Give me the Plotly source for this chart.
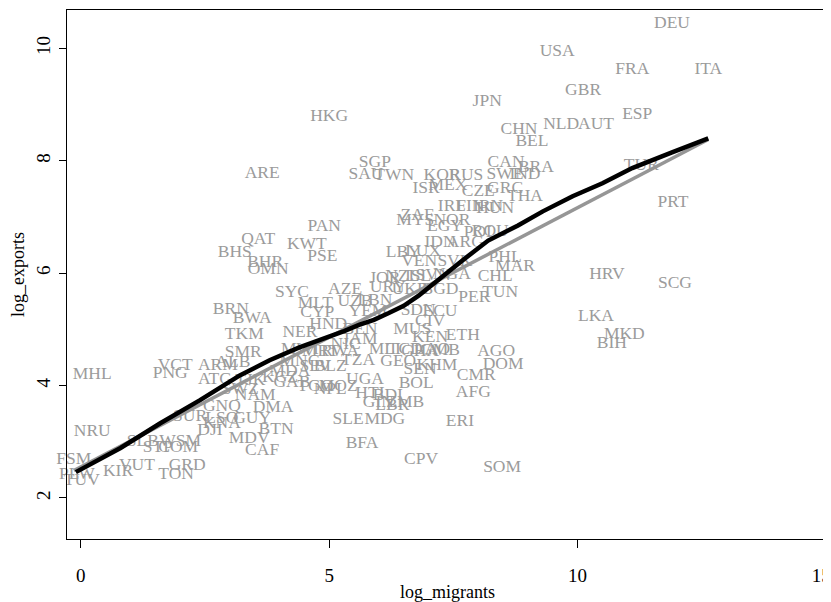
import plotly.graph_objects as go

# Country labels (ISO codes) with log_migrants (x) and log_exports (y)
countries = [
    "DEU", "USA", "FRA", "ITA", "GBR", "JPN", "ESP", "HKG", "CHN", "NLD",
    "AUT", "BEL", "CAN", "BRA", "SWE", "IND", "THA", "GRC", "CZE", "TUR",
    "PRT", "HRV", "SCG", "LKA", "MKD", "BIH", "SGP", "SAU", "TWN", "KOR",
    "RUS", "ISR", "MEX", "IRL", "FIN", "IRN", "HUN", "ZAF", "MYS", "NOR",
    "EGY", "ROU", "POL", "IDN", "ARG", "LBY", "LUX", "VEN", "SVK", "PHL",
    "MAR", "JOR", "NZL", "ISL", "SVN", "NGA", "CHL", "AZE", "URY", "UKR",
    "BGD", "PER", "TUN", "ARE", "PAN", "QAT", "KWT", "BHS", "PSE", "BHR",
    "OMN", "SYC", "MLT", "UZB", "LBN", "CYP", "YEM", "SDN", "ECU", "CIV",
    "BRN", "BWA", "TKM", "NER", "HND", "BEN", "MUS", "KEN", "ETH", "JAM",
    "SMR", "MWI", "MRT", "RWA", "MNG", "NIC", "MLI", "TCD", "GHA", "LAO",
    "GMB", "AGO", "DOM", "ARM", "ALB", "BLZ", "SLV", "TZA", "GEO", "SEN",
    "KHM", "CMR", "ATG", "TJK", "MDA", "KGZ", "GAB", "TGO", "NPL", "MOZ",
    "UGA", "BOL", "AFG", "NAM", "SWZ", "GNQ", "DMA", "SUR", "LSO", "GUY",
    "KNA", "DJI", "BTN", "MDV", "CAF", "SLE", "MDG", "BFA", "ERI", "CPV",
    "SOM", "HTI", "BDI", "GIN", "LBR", "ZMB", "MHL", "VCT", "PNG", "NRU",
    "SLB", "WSM", "STP", "COM", "FSM", "PLW", "TUV", "KIR", "VUT", "GRD",
    "TON",
]

log_migrants = [
    11.90, 9.59, 11.10, 12.63, 10.11, 8.18, 11.20, 5.00, 8.82, 9.67,
    10.37, 9.08, 8.56, 9.16, 8.54, 8.94, 8.94, 8.54, 8.00, 11.28,
    11.92, 10.59, 11.96, 10.37, 10.94, 10.69, 5.92, 5.74, 6.31, 7.27,
    7.76, 6.95, 7.39, 7.47, 7.84, 8.20, 8.34, 6.77, 6.73, 7.47,
    7.33, 8.24, 8.04, 7.23, 7.74, 6.49, 6.89, 6.81, 7.53, 8.54,
    8.74, 6.12, 6.47, 6.79, 7.09, 7.47, 8.34, 5.32, 6.18, 6.63,
    7.23, 7.92, 8.44, 3.65, 4.90, 3.57, 4.55, 3.10, 4.86, 3.71,
    3.77, 4.25, 4.72, 5.52, 5.92, 4.76, 5.78, 6.79, 7.23, 7.03,
    3.02, 3.45, 3.29, 4.41, 4.98, 5.62, 6.67, 7.03, 7.69, 5.62,
    3.27, 4.41, 4.82, 5.22, 4.41, 5.33, 6.12, 6.53, 6.83, 7.07,
    7.23, 8.36, 8.50, 2.76, 3.06, 5.02, 4.72, 5.58, 6.39, 6.83,
    7.17, 7.96, 2.70, 3.41, 4.21, 4.01, 4.25, 4.72, 5.02, 5.18,
    5.72, 6.75, 7.90, 3.51, 3.21, 2.84, 3.87, 2.20, 2.84, 3.45,
    2.84, 2.60, 3.93, 3.39, 3.65, 5.38, 6.12, 5.66, 7.63, 6.85,
    8.48, 5.82, 6.18, 5.99, 6.27, 6.53, 0.23, 1.90, 1.80, 0.23,
    1.25, 2.00, 1.55, 1.96, -0.14, -0.08, 0.02, 0.75, 1.13, 2.14,
    1.92,
]

log_exports = [
    10.44, 9.95, 9.62, 9.62, 9.24, 9.06, 8.82, 8.78, 8.56, 8.65,
    8.65, 8.34, 7.97, 7.87, 7.75, 7.76, 7.36, 7.50, 7.45, 7.92,
    7.26, 5.97, 5.82, 5.23, 4.90, 4.74, 7.96, 7.75, 7.73, 7.73,
    7.73, 7.50, 7.55, 7.18, 7.18, 7.18, 7.14, 7.03, 6.93, 6.93,
    6.82, 6.74, 6.72, 6.55, 6.55, 6.36, 6.38, 6.20, 6.20, 6.27,
    6.11, 5.91, 5.94, 5.94, 5.95, 5.97, 5.94, 5.70, 5.75, 5.70,
    5.70, 5.56, 5.65, 7.78, 6.82, 6.59, 6.50, 6.36, 6.29, 6.18,
    6.06, 5.65, 5.45, 5.49, 5.51, 5.30, 5.31, 5.33, 5.31, 5.13,
    5.35, 5.20, 4.90, 4.95, 5.09, 4.99, 4.99, 4.86, 4.88, 4.81,
    4.58, 4.64, 4.60, 4.60, 4.42, 4.72, 4.64, 4.64, 4.60, 4.64,
    4.62, 4.60, 4.38, 4.36, 4.40, 4.33, 4.33, 4.45, 4.42, 4.28,
    4.35, 4.17, 4.10, 4.08, 4.24, 4.14, 4.05, 3.98, 3.92, 3.99,
    4.10, 4.03, 3.87, 3.82, 3.92, 3.63, 3.60, 3.44, 3.42, 3.42,
    3.32, 3.20, 3.21, 3.06, 2.85, 3.39, 3.39, 2.97, 3.35, 2.68,
    2.54, 3.85, 3.82, 3.69, 3.65, 3.70, 4.19, 4.35, 4.21, 3.18,
    3.01, 3.01, 2.89, 2.89, 2.69, 2.41, 2.30, 2.47, 2.57, 2.57,
    2.41,
]

# Lowess smoother (black)
lowess_x = [-0.1, 0.8, 1.6, 2.4, 3.2, 3.8, 4.4, 5.0, 5.3, 5.6, 5.9, 6.2,
            6.5, 6.8, 7.2, 7.7, 8.2, 8.8, 9.3, 9.9, 10.5, 11.1, 11.9, 12.63]
lowess_y = [2.46, 2.89, 3.33, 3.74, 4.18, 4.45, 4.68, 4.86, 4.97, 5.08, 5.17, 5.29,
            5.42, 5.60, 5.89, 6.24, 6.58, 6.85, 7.10, 7.37, 7.60, 7.87, 8.15, 8.40]

# Linear fit (gray) end points
linfit_x = [-0.14, 12.63]
linfit_y = [2.49, 8.38]

x_ticks = [0, 5, 10, 15]
x_ticktext = ["0", "5", "10", "15\u2002"]
y_ticks = [2, 4, 6, 8, 10]

SERIF = "Liberation Serif, Times New Roman, serif"

fig = go.Figure()

fig.add_trace(go.Scatter(
    x=log_migrants, y=log_exports, text=countries,
    mode="text", textposition="middle center",
    textfont=dict(family=SERIF, size=17.5, color="rgb(155,155,155)"),
    cliponaxis=False, hoverinfo="text", showlegend=False,
))

fig.add_trace(go.Scatter(
    x=linfit_x, y=linfit_y, mode="lines",
    line=dict(color="rgb(150,150,150)", width=3.5),
    showlegend=False, hoverinfo="skip",
))

fig.add_trace(go.Scatter(
    x=lowess_x, y=lowess_y, mode="lines",
    line=dict(color="black", width=4.5),
    showlegend=False, hoverinfo="skip",
))

# page body has an 8px margin: figure is sized/offset to land the plot area
fig.update_layout(
    width=831, height=594,
    margin=dict(l=59, r=11, t=2, b=63, autoexpand=False),
    paper_bgcolor="white", plot_bgcolor="white",
    font=dict(family=SERIF, size=19, color="black"),
    showlegend=False,
)

fig.update_xaxes(
    range=[-0.278, 15.04], tickvals=x_ticks, ticktext=x_ticktext,
    ticks="outside", ticklen=8, tickwidth=1, tickcolor="black",
    showline=True, linecolor="black", linewidth=1, mirror=True,
    showgrid=False, zeroline=False, ticklabeloverflow="allow",
    tickfont=dict(family=SERIF, size=19), ticklabelstandoff=11,
    title=dict(text="log_migrants", font=dict(family=SERIF, size=18), standoff=0),
)

fig.update_yaxes(
    range=[1.270, 10.683], tickvals=y_ticks, ticktext=[str(v) for v in y_ticks],
    ticks="outside", ticklen=7, tickwidth=1, tickcolor="black", tickangle=-90,
    showline=True, linecolor="black", linewidth=1, mirror=True,
    showgrid=False, zeroline=False,
    tickfont=dict(family=SERIF, size=19), ticklabelstandoff=1,
    title=dict(text="log_exports", font=dict(family=SERIF, size=18), standoff=10),
)

fig.write_html("out.html")
